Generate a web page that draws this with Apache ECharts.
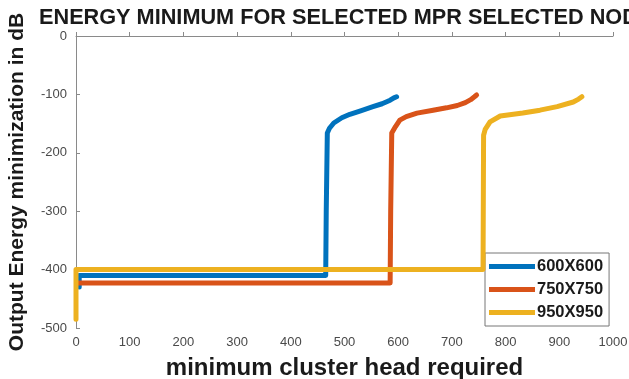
<!DOCTYPE html>
<html>
<head>
<meta charset="utf-8">
<script src="https://cdn.jsdelivr.net/npm/echarts@6/dist/echarts.min.js"></script>
<style>
  html, body { margin: 0; padding: 0; background: #fff; }
  #chart { width: 629px; height: 379px; }
</style>
</head>
<body>
<div id="chart"></div>
<script>
// Tick values
const xTicks = [0, 100, 200, 300, 400, 500, 600, 700, 800, 900, 1000];
const yTicks = [-500, -400, -300, -200, -100, 0];

// Series names and colours
const seriesNames = ['600X600', '750X750', '950X950'];
const seriesColors = ['#0072BD', '#D95319', '#EDB120'];

// 600X600: cluster heads vs energy (dB)
const blueX = [6, 6, 465, 466, 468, 472, 480, 495, 510, 530, 553, 570, 585, 592, 597];
const blueY = [-430, -410, -410, -300, -166, -158, -149, -140, -134, -128, -121, -116, -110, -106, -104];

// 750X750
const orangeX = [4, 585, 586, 588, 595, 603, 615, 635, 665, 690, 710, 725, 735, 742, 746];
const orangeY = [-423, -423, -300, -166, -155, -144, -138, -132, -127, -123, -119, -114, -109, -104, -101];

// 950X950
const yellowX = [0, 0, 758, 759, 762, 771, 790, 832, 864, 896, 926, 936, 942];
const yellowY = [-485, -400, -400, -170, -160, -147, -137, -132, -127, -121, -113, -108, -104];

const pairs = (xs, ys) => xs.map((x, i) => [x, ys[i]]);
const seriesData = [pairs(blueX, blueY), pairs(orangeX, orangeY), pairs(yellowX, yellowY)];

const chart = echarts.init(document.getElementById('chart'), null, { renderer: 'canvas' });

const FONT = 'Liberation Sans, Arial, Helvetica, sans-serif';
const axisColor = '#8a8a8a';
const labelStyle = { fontFamily: FONT, fontSize: 13, color: '#4a4a4a' };

chart.setOption({
  animation: false,
  backgroundColor: '#ffffff',
  title: {
    text: 'ENERGY MINIMUM FOR SELECTED MPR SELECTED NODES',
    left: 39,
    top: 7,
    padding: 0,
    textStyle: { fontFamily: FONT, fontWeight: 'bold', fontSize: 21.7, color: '#1a1a1a' }
  },
  grid: { left: 76, right: 16, top: 36, bottom: 51, containLabel: false, outerBoundsMode: 'none' },
  legend: {
    orient: 'vertical',
    left: 485,
    top: 253,
    padding: [5, 6, 5, 4],
    itemGap: 6,
    itemWidth: 46,
    itemHeight: 5,
    icon: 'rect',
    borderColor: '#777',
    borderWidth: 1,
    borderRadius: 0,
    backgroundColor: '#ffffff',
    textStyle: { fontFamily: FONT, fontWeight: 'bold', fontSize: 16.5, lineHeight: 16, color: '#1a1a1a', padding: [0, 0, 0, -3] },
    data: seriesNames
  },
  xAxis: {
    type: 'value',
    min: xTicks[0],
    max: xTicks[xTicks.length - 1],
    interval: 100,
    name: 'minimum cluster head required',
    nameLocation: 'middle',
    nameGap: 28,
    nameTextStyle: { fontFamily: FONT, fontWeight: 'bold', fontSize: 24, color: '#1a1a1a' },
    axisLine: { show: true, lineStyle: { color: axisColor, width: 1 } },
    axisTick: { show: true, inside: true, length: 4, lineStyle: { color: axisColor } },
    axisLabel: Object.assign({ margin: 8, formatter: v => String(v) }, labelStyle),
    splitLine: { show: false }
  },
  yAxis: {
    type: 'value',
    min: yTicks[0],
    max: yTicks[yTicks.length - 1],
    interval: 100,
    name: 'Output Energy minimization in dB',
    nameLocation: 'middle',
    nameGap: 48,
    nameTextStyle: { fontFamily: FONT, fontWeight: 'bold', fontSize: 21, color: '#1a1a1a' },
    axisLine: { show: true, lineStyle: { color: axisColor, width: 1 } },
    axisTick: { show: true, inside: true, length: 4, lineStyle: { color: axisColor } },
    axisLabel: Object.assign({ margin: 9, formatter: v => String(v) }, labelStyle),
    splitLine: { show: false }
  },
  series: seriesNames.map((name, i) => ({
    name: name,
    type: 'line',
    data: seriesData[i],
    showSymbol: false,
    smooth: false,
    color: seriesColors[i],
    lineStyle: { width: 5, color: seriesColors[i], join: 'round', cap: 'round' },
    itemStyle: { color: seriesColors[i] },
    z: 2 + i
  }))
});
</script>
</body>
</html>
